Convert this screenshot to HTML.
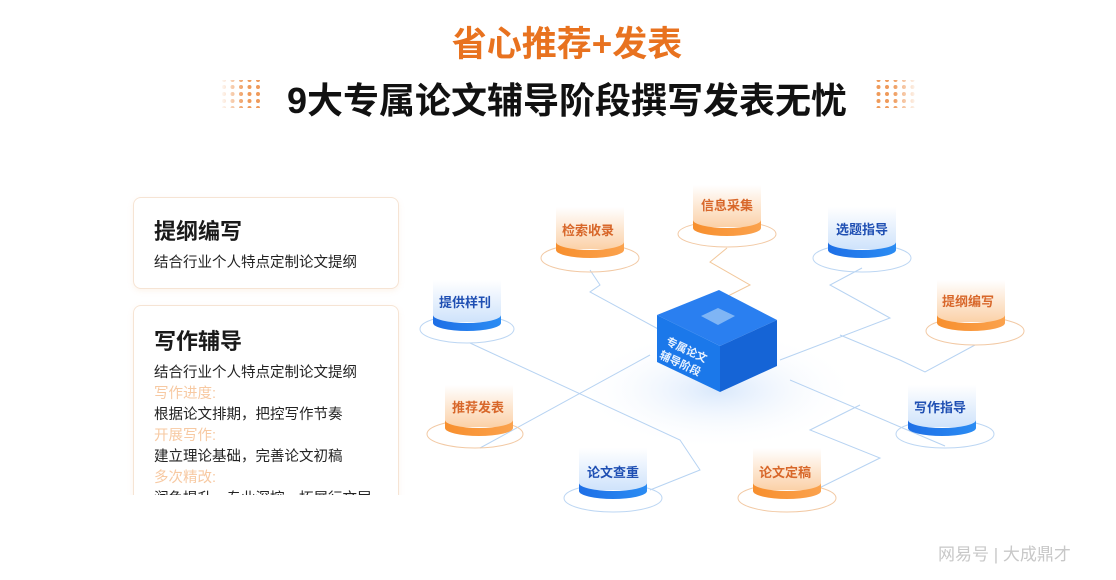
<!DOCTYPE html>
<html><head><meta charset="utf-8"><style>
body{margin:0;width:1116px;height:580px;background:#fff;overflow:hidden;position:relative;font-family:"Liberation Sans","Noto Sans CJK SC",sans-serif;}
.t1{position:absolute;left:0;width:1134px;top:16px;text-align:center;font-size:35px;font-weight:bold;color:#e8721f;letter-spacing:0px}
.t2{position:absolute;left:0;width:1134px;top:72px;text-align:center;font-size:36px;font-weight:bold;color:#111}
.card{position:absolute;left:133px;width:264px;background:#fff;border:1px solid #f6e4d4;border-radius:8px;box-shadow:0 2px 6px rgba(240,180,130,.15)}
.card h3{margin:0;position:absolute;left:20px;font-size:22px;font-weight:bold;color:#1a1a1a}
.card p{margin:0;position:absolute;left:20px;font-size:14.5px;color:#222;line-height:21px}
.o{color:#f7c9a2}
</style></head><body>
<div class="t1">省心推荐+发表</div>
<div class="t2">9大专属论文辅导阶段撰写发表无忧</div>
<svg style="position:absolute;left:0;top:0" width="1116" height="580">
<defs>
<pattern id="dl" width="8.5" height="7" patternUnits="userSpaceOnUse"><circle cx="3" cy="3" r="2" fill="#ef9a5a"/></pattern>
<linearGradient id="fl" x1="0" x2="1"><stop offset="0" stop-color="#fff"/><stop offset="1" stop-color="#fff" stop-opacity="0"/></linearGradient>
<linearGradient id="fr" x1="1" x2="0"><stop offset="0" stop-color="#fff"/><stop offset="1" stop-color="#fff" stop-opacity="0"/></linearGradient>
<linearGradient id="og" x1="0" y1="0" x2="0" y2="1"><stop offset="0" stop-color="#fff"/><stop offset="1" stop-color="#fbd1a8"/></linearGradient>
<linearGradient id="bg" x1="0" y1="0" x2="0" y2="1"><stop offset="0" stop-color="#fff"/><stop offset="1" stop-color="#cfe3fb"/></linearGradient>
<linearGradient id="ob" x1="0" x2="1"><stop offset="0" stop-color="#f78f2e"/><stop offset="1" stop-color="#fba24d"/></linearGradient>
<linearGradient id="bb" x1="0" x2="1"><stop offset="0" stop-color="#1e6fe6"/><stop offset="1" stop-color="#2b8cf3"/></linearGradient>
<radialGradient id="glow"><stop offset="0" stop-color="#cfe2fb" stop-opacity=".8"/><stop offset="1" stop-color="#fff" stop-opacity="0"/></radialGradient>
</defs>
<rect x="220" y="80" width="43" height="28" fill="url(#dl)"/><rect x="220" y="80" width="25" height="28" fill="url(#fl)"/>
<rect x="873" y="80" width="45" height="28" fill="url(#dl)"/><rect x="893" y="80" width="25" height="28" fill="url(#fr)"/>
<ellipse cx="718" cy="390" rx="140" ry="60" fill="url(#glow)"/>
<g fill="none" stroke="#b7d3f2" stroke-width="1">
<polyline points="590,270 600,285 590,292 660,330"/>
<polyline points="727,248 710,262 750,285 720,300" stroke="#f2c79a"/>
<polyline points="862,268 830,285 890,318 780,360"/>
<polyline points="975,345 925,372 900,360 840,335"/>
<polyline points="470,343 680,440 700,470 650,490"/>
<polyline points="480,448 650,355"/>
<polyline points="945,446 790,380"/>
<polyline points="805,495 880,458 810,430 860,405"/>
</g>
<g fill="none" stroke="#f2c9a4" stroke-width="1">
<ellipse cx="590" cy="258" rx="49" ry="14"/><ellipse cx="727" cy="234" rx="49" ry="13"/><ellipse cx="975" cy="331" rx="49" ry="14"/><ellipse cx="475" cy="434" rx="48" ry="14"/><ellipse cx="787" cy="498" rx="49" ry="14"/>
</g>
<g fill="none" stroke="#bcd6f3" stroke-width="1">
<ellipse cx="862" cy="258" rx="49" ry="14"/><ellipse cx="467" cy="329" rx="47" ry="14"/><ellipse cx="945" cy="434" rx="49" ry="14"/><ellipse cx="613" cy="498" rx="49" ry="14"/>
</g>
<g>
<g transform="translate(590,252)"><rect x="-34" y="-45" width="68" height="42" fill="url(#og)"/><path d="M-34,-10 v8 a34,8 0 0 0 68,0 v-8 a34,8 0 0 1 -68,0z" fill="url(#ob)"/></g>
<g transform="translate(727,230)"><rect x="-34" y="-45" width="68" height="42" fill="url(#og)"/><path d="M-34,-10 v8 a34,8 0 0 0 68,0 v-8 a34,8 0 0 1 -68,0z" fill="url(#ob)"/></g>
<g transform="translate(971,325)"><rect x="-34" y="-45" width="68" height="42" fill="url(#og)"/><path d="M-34,-10 v8 a34,8 0 0 0 68,0 v-8 a34,8 0 0 1 -68,0z" fill="url(#ob)"/></g>
<g transform="translate(479,430)"><rect x="-34" y="-45" width="68" height="42" fill="url(#og)"/><path d="M-34,-10 v8 a34,8 0 0 0 68,0 v-8 a34,8 0 0 1 -68,0z" fill="url(#ob)"/></g>
<g transform="translate(787,493)"><rect x="-34" y="-45" width="68" height="42" fill="url(#og)"/><path d="M-34,-10 v8 a34,8 0 0 0 68,0 v-8 a34,8 0 0 1 -68,0z" fill="url(#ob)"/></g>
<g transform="translate(862,252)"><rect x="-34" y="-45" width="68" height="42" fill="url(#bg)"/><path d="M-34,-10 v8 a34,8 0 0 0 68,0 v-8 a34,8 0 0 1 -68,0z" fill="url(#bb)"/></g>
<g transform="translate(467,325)"><rect x="-34" y="-45" width="68" height="42" fill="url(#bg)"/><path d="M-34,-10 v8 a34,8 0 0 0 68,0 v-8 a34,8 0 0 1 -68,0z" fill="url(#bb)"/></g>
<g transform="translate(942,430)"><rect x="-34" y="-45" width="68" height="42" fill="url(#bg)"/><path d="M-34,-10 v8 a34,8 0 0 0 68,0 v-8 a34,8 0 0 1 -68,0z" fill="url(#bb)"/></g>
<g transform="translate(613,493)"><rect x="-34" y="-45" width="68" height="42" fill="url(#bg)"/><path d="M-34,-10 v8 a34,8 0 0 0 68,0 v-8 a34,8 0 0 1 -68,0z" fill="url(#bb)"/></g>
</g>
<g font-size="13" font-weight="bold" text-anchor="middle" font-family="Liberation Sans,Noto Sans CJK SC,sans-serif">
<text x="588" y="235" fill="#d8672a">检索收录</text>
<text x="727" y="210" fill="#d8672a">信息采集</text>
<text x="968" y="306" fill="#d8672a">提纲编写</text>
<text x="478" y="412" fill="#d8672a">推荐发表</text>
<text x="785" y="477" fill="#d8672a">论文定稿</text>
<text x="862" y="234" fill="#1f4fb3">选题指导</text>
<text x="465" y="307" fill="#1f4fb3">提供样刊</text>
<text x="940" y="412" fill="#1f4fb3">写作指导</text>
<text x="613" y="477" fill="#1f4fb3">论文查重</text>
</g>
<polygon points="719,290 777,320 720,346 657,315" fill="#2a7ff0"/>
<polygon points="657,315 720,346 720,392 657,362" fill="#1b78ea"/>
<polygon points="720,346 777,320 777,366 720,392" fill="#1564d6"/>
<polygon points="718,308 735,316 718,325 701,316" fill="#7fb5f5"/>
<g fill="#e8f2ff" font-size="11" font-weight="bold" font-family="Liberation Sans,Noto Sans CJK SC,sans-serif" transform="translate(665,344) rotate(25)">
<text x="0" y="0">专属论文</text><text x="0" y="15">辅导阶段</text></g>
<text x="938" y="560" font-size="17" fill="#c8c8c8" font-family="Liberation Sans,Noto Sans CJK SC,sans-serif">网易号 | 大成鼎才</text>
</svg>
<div class="card" style="top:197px;height:90px"><h3 style="top:16px">提纲编写</h3><p style="top:55px">结合行业个人特点定制论文提纲</p></div>
<div class="card" style="top:305px;height:200px;overflow:hidden;border-bottom:none;border-radius:8px 8px 0 0"><h3 style="top:18px">写作辅导</h3>
<p style="top:57px">结合行业个人特点定制论文提纲<br><span class="o">写作进度:</span><br>根据论文排期，把控写作节奏<br><span class="o">开展写作:</span><br>建立理论基础，完善论文初稿<br><span class="o">多次精改:</span><br>润色提升，专业深控，拓展行文层</p></div>
<div style="position:absolute;left:120px;top:495px;width:300px;height:40px;background:#fff"></div>
</body></html>
